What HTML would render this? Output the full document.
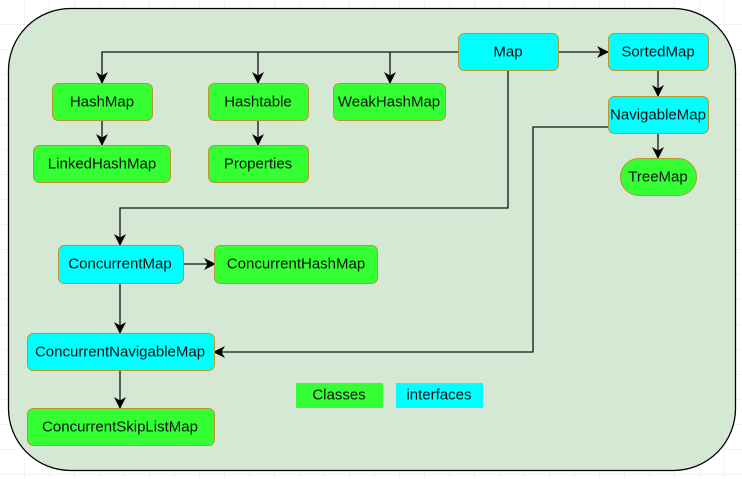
<!DOCTYPE html>
<html><head><meta charset="utf-8"><style>
html,body{margin:0;padding:0;background:#fff}
svg{display:block}
text{font-family:"Liberation Sans",sans-serif;font-size:15px;fill:#111;text-anchor:middle;dominant-baseline:central}
</style></head><body>
<svg width="742" height="479" viewBox="0 0 742 479" xmlns="http://www.w3.org/2000/svg">
<defs>
<pattern id="g" width="25" height="25" patternUnits="userSpaceOnUse" x="0" y="0">
<path d="M25 0V25H0" fill="none" stroke="#e8e8e8" stroke-width="1"/>
</pattern>
<marker id="a" markerWidth="12" markerHeight="12" refX="11" refY="6" orient="auto" markerUnits="userSpaceOnUse">
<path d="M0,0 L12,6 L0,12 L3.5,6 Z" fill="#000"/>
</marker>
</defs>
<rect width="742" height="479" fill="url(#g)"/>
<rect x="8.5" y="8.5" width="727" height="462" rx="62" fill="#d5e8d4" stroke="#000" stroke-width="1.3"/>
<g fill="none" stroke="#111" stroke-width="1.3">
<path d="M458 52H102V83" marker-end="url(#a)"/>
<path d="M258 52V83" marker-end="url(#a)"/>
<path d="M390 52V83" marker-end="url(#a)"/>
<path d="M558 52H608" marker-end="url(#a)"/>
<path d="M658 70V96" marker-end="url(#a)"/>
<path d="M658 133V158" marker-end="url(#a)"/>
<path d="M102 120V145" marker-end="url(#a)"/>
<path d="M258 120V145" marker-end="url(#a)"/>
<path d="M508 70V208H120V245" marker-end="url(#a)"/>
<path d="M608 127H533V352H214" marker-end="url(#a)"/>
<path d="M183 264H215" marker-end="url(#a)"/>
<path d="M120 283V333" marker-end="url(#a)"/>
<path d="M120 370V408" marker-end="url(#a)"/>
</g>
<g stroke="#b8962e" stroke-width="1">
<rect x="458.5" y="33.5" width="100" height="37" rx="6" fill="#00ffff"/>
<rect x="608.5" y="33.5" width="100" height="37" rx="6" fill="#00ffff"/>
<rect x="608.5" y="96.5" width="100" height="37" rx="6" fill="#00ffff"/>
<rect x="620.5" y="158.5" width="76" height="37" rx="18.5" fill="#33ff33"/>
<rect x="52.5" y="83.5" width="100" height="37" rx="6" fill="#33ff33"/>
<rect x="33.5" y="145.5" width="137" height="37" rx="6" fill="#33ff33"/>
<rect x="208.5" y="83.5" width="100" height="37" rx="6" fill="#33ff33"/>
<rect x="208.5" y="145.5" width="100" height="37" rx="6" fill="#33ff33"/>
<rect x="333.5" y="83.5" width="112" height="37" rx="6" fill="#33ff33"/>
<rect x="58.5" y="245.5" width="125" height="38" rx="6" fill="#00ffff"/>
<rect x="214.5" y="245.5" width="163" height="38" rx="6" fill="#33ff33"/>
<rect x="27.5" y="333.5" width="187" height="37" rx="6" fill="#00ffff"/>
<rect x="27.5" y="408.5" width="187" height="37" rx="6" fill="#33ff33"/>
</g>
<rect x="296" y="383" width="87" height="25" fill="#33ff33"/>
<rect x="396" y="383" width="87" height="25" fill="#00ffff"/>
<text x="508" y="52">Map</text>
<text x="658" y="52">SortedMap</text>
<text x="658" y="115">NavigableMap</text>
<text x="658" y="177">TreeMap</text>
<text x="102" y="102">HashMap</text>
<text x="102" y="164">LinkedHashMap</text>
<text x="258" y="102">Hashtable</text>
<text x="258" y="164">Properties</text>
<text x="389" y="102">WeakHashMap</text>
<text x="120" y="264">ConcurrentMap</text>
<text x="296" y="264">ConcurrentHashMap</text>
<text x="120" y="352">ConcurrentNavigableMap</text>
<text x="120" y="427">ConcurrentSkipListMap</text>
<text x="339" y="395">Classes</text>
<text x="439" y="395">interfaces</text>
</svg>
</body></html>
